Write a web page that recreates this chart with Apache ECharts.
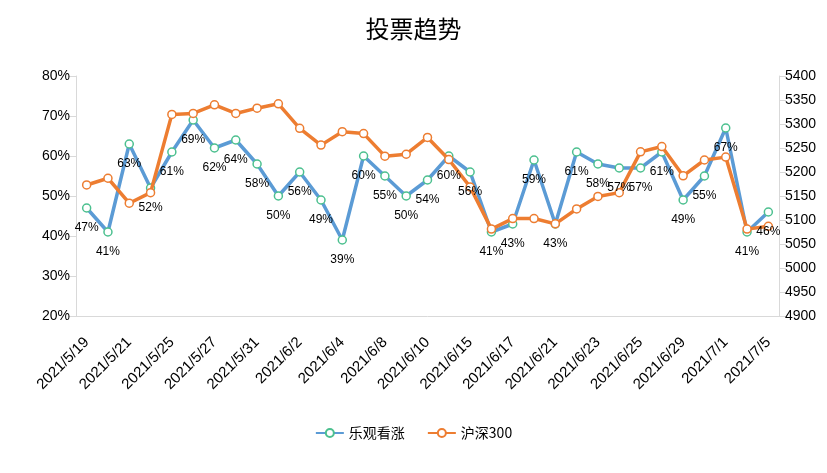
<!DOCTYPE html>
<html>
<head>
<meta charset="utf-8">
<script src="https://cdn.jsdelivr.net/npm/echarts@6/dist/echarts.min.js"></script>
<style>html,body{margin:0;padding:0;background:#fff;}#c{width:827px;height:473px;}</style>
</head>
<body>
<div id="c"></div>
<script>
var categories = ['2021/5/19','2021/5/20','2021/5/21','2021/5/24','2021/5/25','2021/5/26','2021/5/27','2021/5/28','2021/5/31','2021/6/1','2021/6/2','2021/6/3','2021/6/4','2021/6/7','2021/6/8','2021/6/9','2021/6/10','2021/6/11','2021/6/15','2021/6/16','2021/6/17','2021/6/18','2021/6/21','2021/6/22','2021/6/23','2021/6/24','2021/6/25','2021/6/28','2021/6/29','2021/6/30','2021/7/1','2021/7/2','2021/7/5'];
var bullish = [47,41,63,52,61,69,62,64,58,50,56,49,39,60,55,50,54,60,56,41,43,59,43,61,58,57,57,61,49,55,67,41,46];
var hs300 = [5173,5187,5135,5157,5320,5322,5340,5322,5333,5342,5291,5256,5284,5280,5233,5237,5272,5226,5169,5081,5103,5103,5092,5123,5149,5157,5242,5253,5192,5225,5231,5081,5087];
var leftTicks = {min:20, max:80, interval:10};
var rightTicks = {min:4900, max:5400, interval:50};

var chart = echarts.init(document.getElementById('c'));
var axisFont = 'Liberation Sans, Arial, sans-serif';
chart.setOption({
  animation:false,
  backgroundColor:'#fff',
  title:{text:'投票趋势', left:'center', top:12,
    textStyle:{fontFamily:'Noto Sans CJK SC', fontSize:24, fontWeight:'normal', color:'#000'}},
  legend:{bottom:28, left:'center', itemWidth:28, itemHeight:10, itemGap:22,
    textStyle:{fontFamily:'Noto Sans CJK SC', fontSize:14, color:'#000'},
    data:['乐观看涨','沪深300']},
  grid:{left:76, right:48, top:76, bottom:157, containLabel:false},
  xAxis:{type:'category', data:categories, boundaryGap:true,
    axisLine:{lineStyle:{color:'#d9d9d9'}},
    axisTick:{show:false},
    axisLabel:{interval:1, rotate:45, margin:24, color:'#000', fontFamily:axisFont, fontSize:15}},
  yAxis:[
    {type:'value', min:leftTicks.min, max:leftTicks.max, interval:leftTicks.interval,
      axisLine:{show:true, lineStyle:{color:'#d9d9d9'}},
      axisTick:{show:true, length:7, lineStyle:{color:'#d9d9d9'}},
      splitLine:{show:false},
      axisLabel:{formatter:'{value}%', color:'#000', fontFamily:axisFont, fontSize:14, margin:6}},
    {type:'value', min:rightTicks.min, max:rightTicks.max, interval:rightTicks.interval,
      axisLine:{show:true, lineStyle:{color:'#d9d9d9'}},
      axisTick:{show:true, length:7, lineStyle:{color:'#d9d9d9'}},
      splitLine:{show:false},
      axisLabel:{formatter:function(v){return String(v);}, color:'#000', fontFamily:axisFont, fontSize:14, margin:6}}
  ],
  series:[
    {name:'乐观看涨', type:'line', yAxisIndex:0, data:bullish,
      symbol:'circle', symbolSize:8,
      lineStyle:{color:'#5B9BD5', width:3.5},
      itemStyle:{color:'#fff', borderColor:'#4CC08F', borderWidth:1.5},
      z:2},
    {name:'沪深300', type:'line', yAxisIndex:1, data:hs300,
      symbol:'circle', symbolSize:8,
      lineStyle:{color:'#ED7D31', width:3.5},
      itemStyle:{color:'#fff', borderColor:'#ED7D31', borderWidth:1.5},
      z:3},
    {name:'乐观看涨标签', type:'line', yAxisIndex:0, data:bullish,
      symbol:'circle', symbolSize:8, showSymbol:true,
      lineStyle:{width:0, color:'rgba(0,0,0,0)'},
      itemStyle:{color:'rgba(0,0,0,0)', borderColor:'rgba(0,0,0,0)', borderWidth:0},
      label:{show:true, position:'bottom', distance:10, formatter:'{c}%', color:'#000', fontFamily:axisFont, fontSize:12},
      silent:true, z:10}
  ]
});
</script>
</body>
</html>
